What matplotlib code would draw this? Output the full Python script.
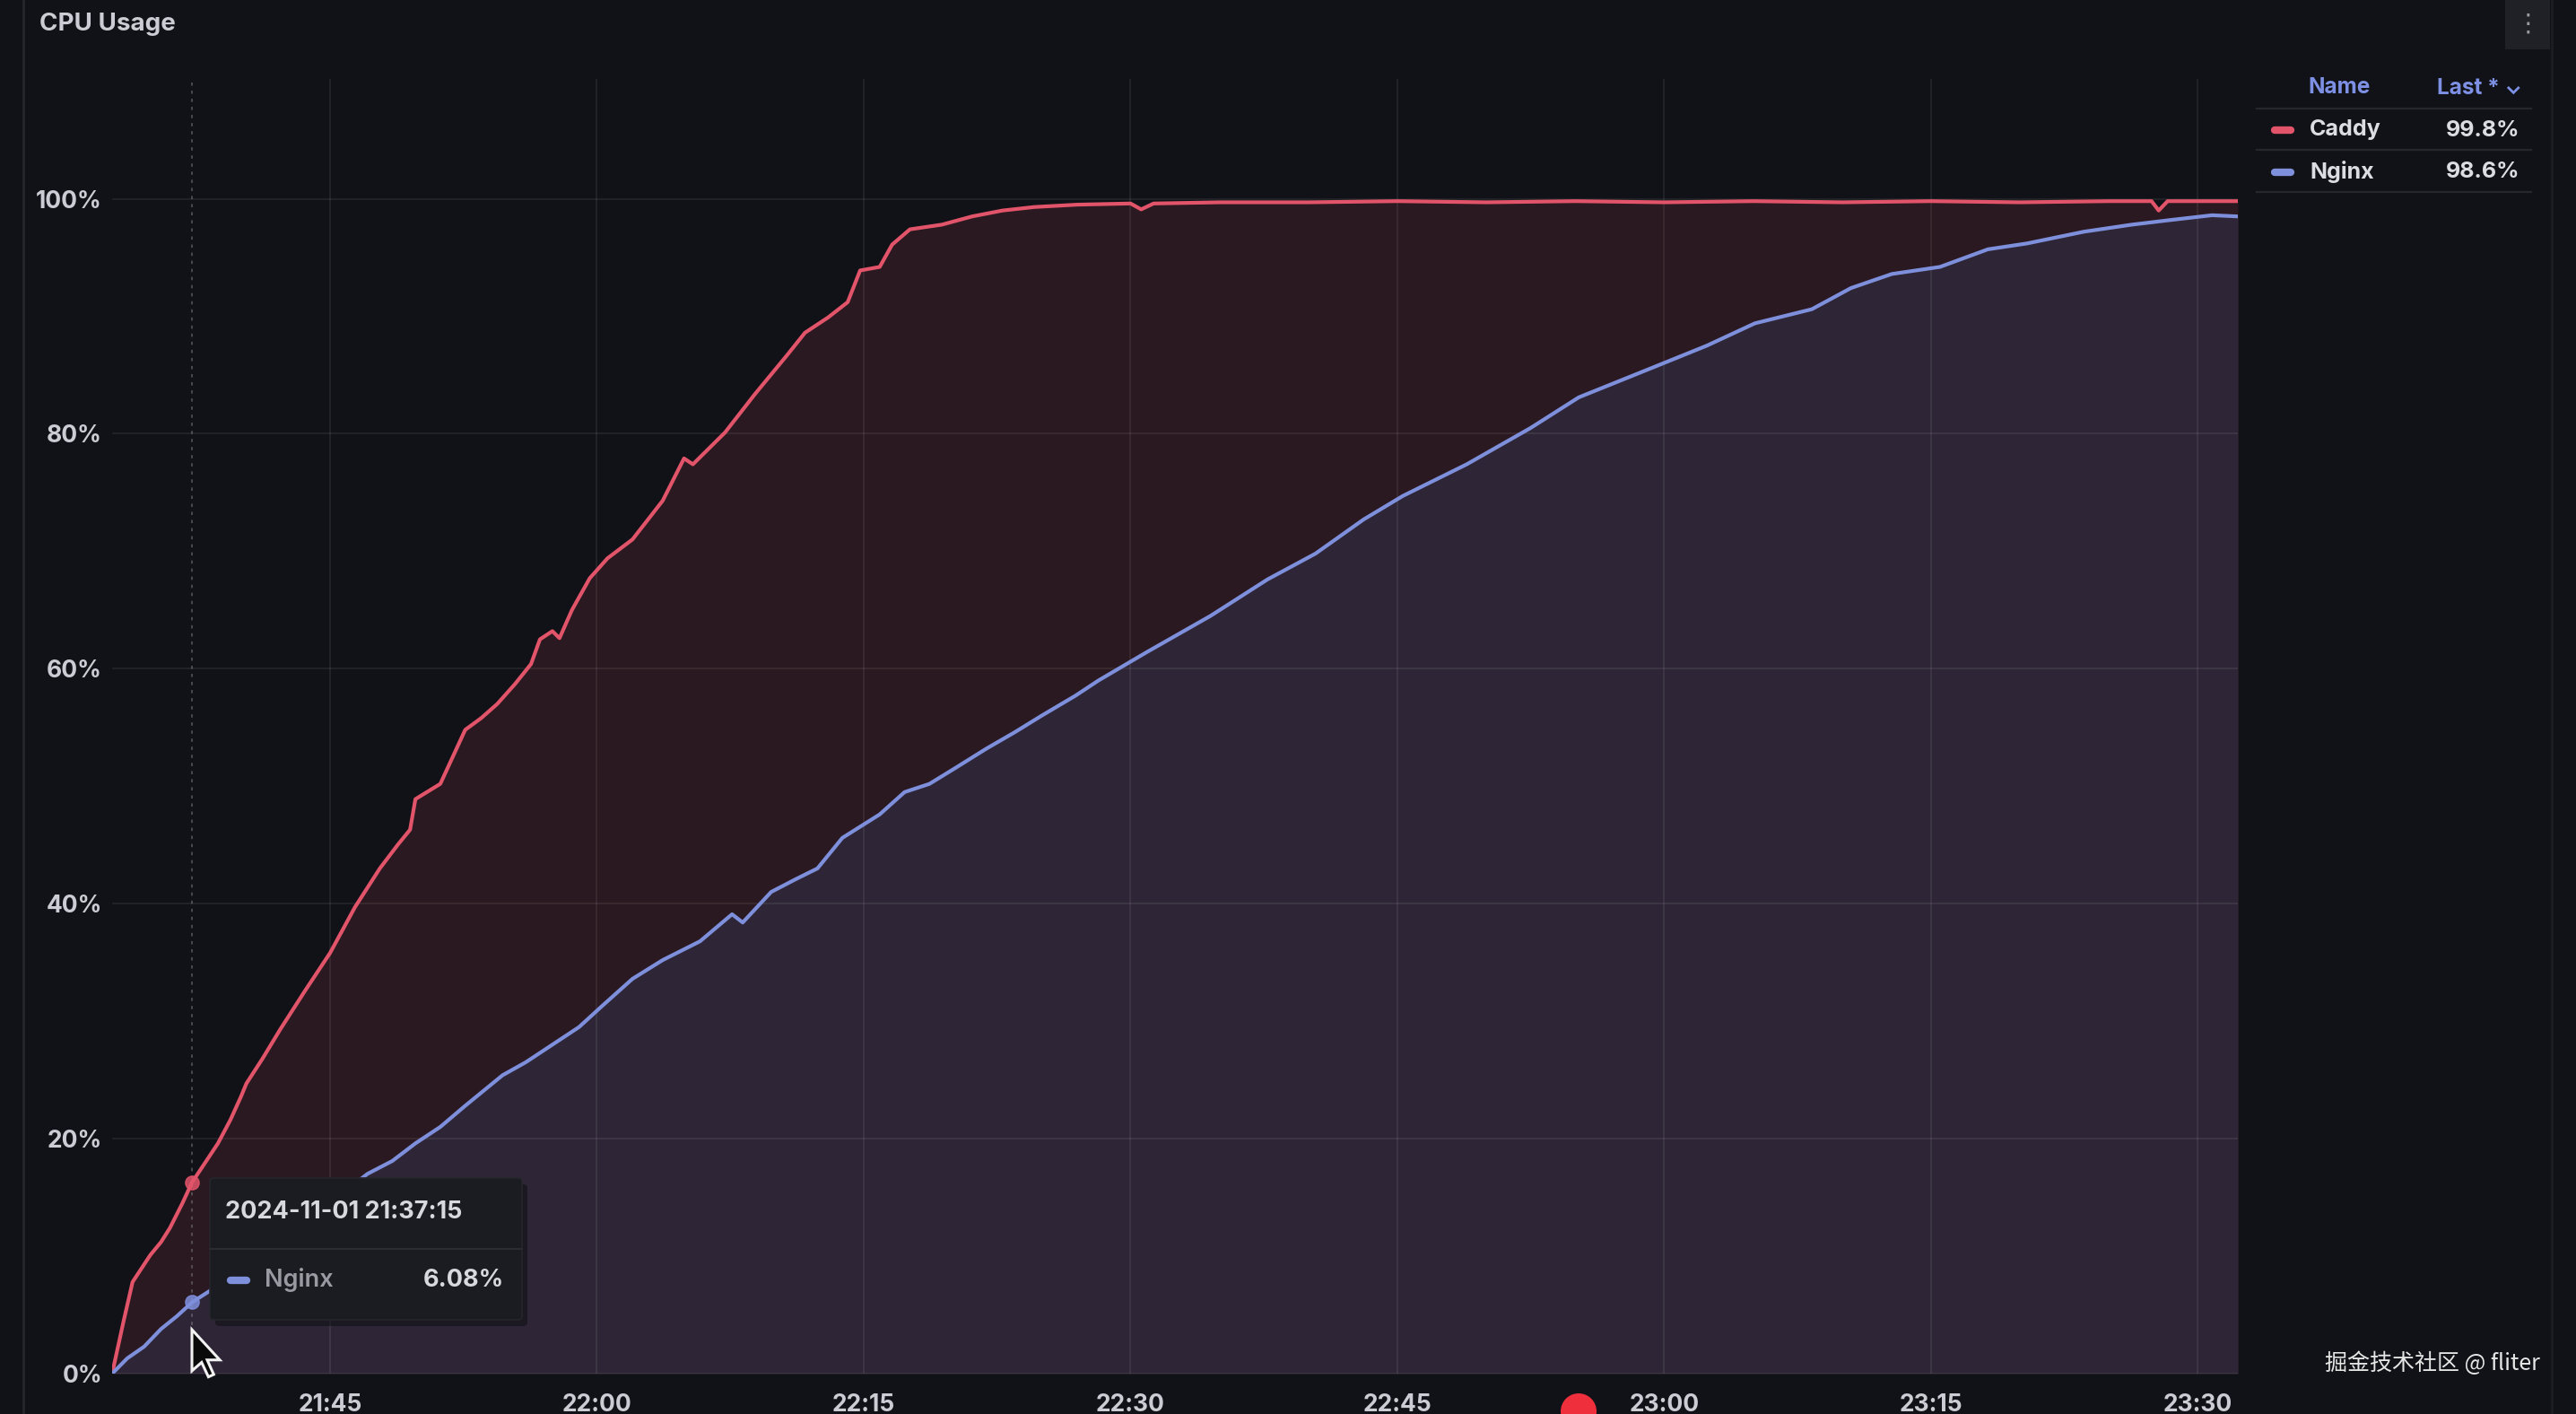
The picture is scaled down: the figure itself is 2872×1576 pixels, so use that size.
import matplotlib
matplotlib.use("Agg")
import matplotlib.pyplot as plt
from matplotlib.patches import Rectangle, Ellipse, Polygon, FancyBboxPatch
from matplotlib.lines import Line2D

# === DATA (minutes after 21:30, CPU %) ===
caddy_t = [2.75, 3.4, 3.9, 4.9, 5.5, 6.0, 6.7, 7.25, 8.0, 8.7, 9.4, 10.0, 10.3, 11.2, 12.2,
           13.6, 15.0, 16.4, 17.8, 18.8, 19.5, 19.8, 21.2, 22.6, 23.5, 24.4, 25.4, 26.3, 26.8,
           27.5, 27.9, 28.6, 29.6, 30.6, 32.0, 33.7, 34.9, 35.4, 36.2, 37.2, 38.9, 40.7, 41.7,
           43.0, 44.1, 44.8, 45.9, 46.6, 47.6, 49.4, 51.1, 52.8, 54.6, 57.0, 60.0, 60.6, 61.3,
           65, 70, 75, 80, 85, 90, 95, 100, 105, 110, 115, 117.4, 117.8, 118.3, 120, 122.25]
caddy_v = [0.0, 4.5, 7.8, 10.1, 11.2, 12.4, 14.5, 16.3, 18.0, 19.6, 21.6, 23.6, 24.7, 26.8, 29.3,
           32.6, 35.8, 39.7, 43.0, 45.0, 46.3, 48.9, 50.2, 54.8, 55.8, 57.0, 58.7, 60.4, 62.5,
           63.2, 62.6, 65.0, 67.7, 69.4, 71.0, 74.3, 77.9, 77.4, 78.6, 80.1, 83.4, 86.7, 88.6,
           89.9, 91.2, 93.9, 94.2, 96.1, 97.4, 97.8, 98.5, 99.0, 99.3, 99.5, 99.6, 99.1, 99.6,
           99.7, 99.7, 99.8, 99.7, 99.8, 99.7, 99.8, 99.7, 99.8, 99.7, 99.8, 99.8, 99.0, 99.8, 99.8, 99.8]

nginx_t = [2.75, 3.6, 4.55, 5.5, 6.4, 7.25, 8.4, 10.0, 12.0, 14.0, 15.5, 17.1, 18.5, 19.8, 21.2,
           22.6, 24.7, 26.0, 27.5, 29.0, 30.3, 32.0, 33.7, 35.8, 37.6, 38.2, 39.8, 41.2, 42.4,
           43.8, 45.9, 47.3, 48.7, 50.1, 51.9, 53.5, 55.0, 56.9, 58.2, 60.9, 64.5, 67.7, 70.4,
           73.1, 75.3, 78.9, 82.5, 85.2, 89.3, 92.4, 95.1, 98.3, 100.5, 102.8, 105.5, 108.2,
           110.4, 113.6, 116.3, 118.5, 120.8, 122.25]
nginx_v = [0.0, 1.3, 2.3, 3.8, 4.9, 6.08, 7.2, 8.9, 11.2, 13.4, 15.1, 17.0, 18.1, 19.6, 21.0,
           22.8, 25.4, 26.5, 28.0, 29.5, 31.3, 33.6, 35.2, 36.8, 39.1, 38.4, 41.0, 42.1, 43.0,
           45.6, 47.6, 49.5, 50.2, 51.5, 53.2, 54.6, 56.0, 57.7, 59.0, 61.4, 64.5, 67.6, 69.8,
           72.7, 74.7, 77.4, 80.5, 83.1, 85.6, 87.5, 89.4, 90.6, 92.4, 93.6, 94.2, 95.7, 96.2,
           97.2, 97.8, 98.2, 98.6, 98.5]

x_ticks = [15, 30, 45, 60, 75, 90, 105, 120]
x_labels = ["21:45", "22:00", "22:15", "22:30", "22:45", "23:00", "23:15", "23:30"]
y_ticks = [0, 20, 40, 60, 80, 100]
y_labels = ["0%", "20%", "40%", "60%", "80%", "100%"]

series_names = ["Caddy", "Nginx"]
series_last = ["99.8%", "98.6%"]
hover_t = 7.25
hover_label = "2024-11-01 21:37:15"
hover_value = "6.08%"

# === STYLE ===
BG = "#111217"
RED = "#e2546a"
BLUE = "#7e8fdc"
TEXT = "#cbccd4"
GRID = "#ffffff"
W, H = 2872, 1576

plt.rcParams['font.family'] = ['Inter', 'DejaVu Sans']

fig = plt.figure(figsize=(W / 100, H / 100), dpi=100, facecolor=BG)


def fx(px):
    return px / W


def fy(py):
    return 1 - py / H


ax = fig.add_axes([fx(125), fy(1531), fx(2495) - fx(125), fy(88) - fy(1531)])
ax.set_facecolor(BG)
ax.set_xlim(2.75, 122.25)
ax.set_ylim(0, 110.2)

ax.fill_between(caddy_t, 0, caddy_v, color="#2a1920", lw=0, zorder=1)
ax.fill_between(nginx_t, 0, nginx_v, color="#2e2636", lw=0, zorder=1.1)

for t in x_ticks:
    ax.axvline(t, color=GRID, alpha=0.07, lw=1.5, zorder=2)
for v in y_ticks:
    ax.axhline(v, color=GRID, alpha=0.07, lw=1.5, zorder=2)

ax.plot(caddy_t, caddy_v, color=RED, lw=3.0, zorder=4, solid_joinstyle="round")
ax.plot(nginx_t, nginx_v, color=BLUE, lw=3.0, zorder=4, solid_joinstyle="round")

# hover crosshair + points
ax.axvline(hover_t, color="#8a8b92", alpha=0.5, lw=1.3, ls=(0, (2, 3)), zorder=3)
ax.plot([hover_t], [16.3], "o", ms=11, color=RED, alpha=0.85, zorder=5)
ax.plot([hover_t], [6.08], "o", ms=11, color=BLUE, alpha=0.85, zorder=5)

ax.set_xticks(x_ticks)
ax.set_xticklabels(x_labels)
ax.set_yticks(y_ticks)
ax.set_yticklabels(y_labels)
ax.tick_params(axis="both", length=0, colors=TEXT, labelsize=19)
ax.tick_params(axis="x", pad=16)
ax.tick_params(axis="y", pad=8)
for lab in ax.get_xticklabels() + ax.get_yticklabels():
    lab.set_fontweight("bold")
for s in ax.spines.values():
    s.set_visible(False)

# === PANEL CHROME ===
fig.add_artist(Line2D([fx(26), fx(26)], [0, 1], color="#26272d", lw=2))
fig.add_artist(Line2D([fx(2845), fx(2845)], [0, 1], color="#1d1e23", lw=2))
fig.text(fx(44), fy(27), "CPU Usage", color=TEXT, fontsize=20, fontweight="bold",
         va="center", ha="left")
fig.add_artist(Rectangle((fx(2793), fy(55)), fx(50), fy(0) - fy(55), color="#202127", lw=0))
fig.text(fx(2818), fy(27), "⋮", color="#9a9ba2", fontsize=20, ha="center", va="center",
         family="DejaVu Sans")

# legend table
fig.text(fx(2608), fy(98), "Name", color="#7d90e4", fontsize=17.5, fontweight="bold",
         ha="center", va="center")
fig.text(fx(2812), fy(98), "Last * \u2304", color="#7d90e4", fontsize=17.5,
         fontweight="bold", ha="right", va="center", family=["Inter", "DejaVu Sans"])
for yy in [121, 167, 214]:
    fig.add_artist(Line2D([fx(2516), fx(2822)], [fy(yy), fy(yy)], color="#26272d", lw=1.6))
colors = [RED, BLUE]
for i, (name, last) in enumerate(zip(series_names, series_last)):
    yy = 145 + i * 47
    fig.add_artist(Line2D([fx(2536), fx(2554)], [fy(yy), fy(yy)], color=colors[i], lw=6,
                          solid_capstyle="round"))
    fig.text(fx(2575), fy(yy), name, color="#dcdde3", fontsize=18, fontweight="bold",
             ha="left", va="center")
    fig.text(fx(2809), fy(yy), last, color="#dcdde3", fontsize=18, fontweight="bold",
             ha="right", va="center")

# tooltip
fig.add_artist(FancyBboxPatch((fx(240), fy(1478)), fx(348), fy(1313) - fy(1471),
                              boxstyle="round,pad=0,rounding_size=0.002",
                              color="#0b0c0f", alpha=0.5, lw=0, zorder=9))
fig.add_artist(FancyBboxPatch((fx(234), fy(1471)), fx(348), fy(1313) - fy(1471),
                              boxstyle="round,pad=0,rounding_size=0.002",
                              facecolor="#1b1c22", edgecolor="#25262c", lw=1.2, zorder=10))
fig.add_artist(Line2D([fx(234), fx(582)], [fy(1392), fy(1392)], color="#2c2d33", lw=1.5,
                      zorder=11))
fig.text(fx(251), fy(1351), hover_label, color="#d8d9df", fontsize=19.5, fontweight="bold",
         ha="left", va="center", zorder=11)
fig.add_artist(Line2D([fx(257), fx(275)], [fy(1427), fy(1427)], color=BLUE, lw=6,
                      solid_capstyle="round", zorder=11))
fig.text(fx(295), fy(1427), "Nginx", color="#9a9ba2", fontsize=19.5, fontweight="semibold",
         ha="left", va="center", zorder=11)
fig.text(fx(562), fy(1427), hover_value, color="#d8d9df", fontsize=19.5, fontweight="bold",
         ha="right", va="center", zorder=11)

# mouse cursor
arrow = [(0, 0), (0, 17), (4, 13.5), (6.8, 19.5), (9, 18.5), (6.3, 12.5), (11.5, 12.5)]
tip_x, tip_y, sc = 214, 1482, 2.7
fig.add_artist(Polygon([(fx(tip_x + dx * sc), fy(tip_y + dy * sc)) for dx, dy in arrow],
                       closed=True, facecolor="#0a0a0a", edgecolor="#f2f2f2", lw=2.2,
                       zorder=12))

# recording dot
fig.add_artist(Ellipse((fx(1760), fy(1573)), fx(40), 40 / H, color="#ef2f3c", lw=0, zorder=12))

# watermark
fig.text(fx(2832), fy(1520), "掘金技术社区 @ fliter", color="#e6e6e6", fontsize=18,
         ha="right", va="center", family=["Noto Sans CJK SC", "DejaVu Sans"], zorder=12)

fig.savefig("out.png", dpi=100, facecolor=BG)
